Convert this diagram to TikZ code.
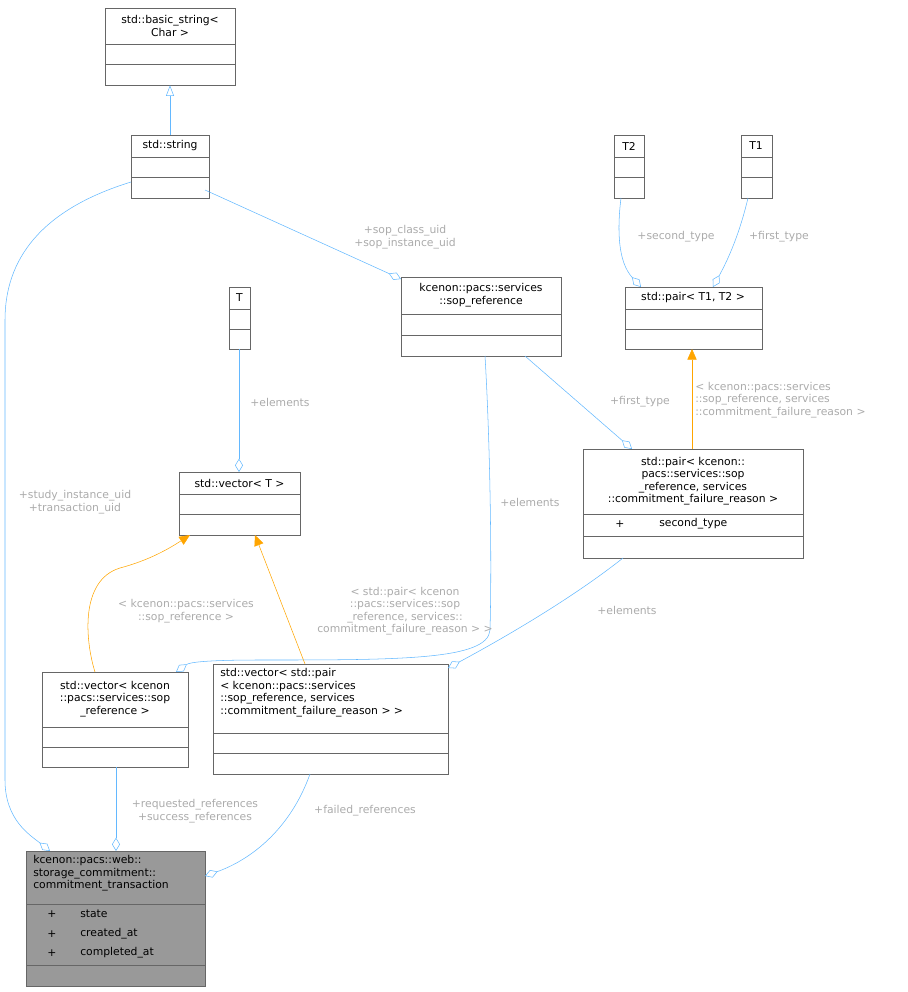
\documentclass[tikz,border=0pt]{standalone}
\usepackage{fontspec}
\setmainfont{DejaVu Sans}
\usetikzlibrary{arrows.meta,fit}
\definecolor{edgec}{HTML}{63B8FF}
\definecolor{bordc}{HTML}{666666}
\definecolor{labc}{HTML}{ABABAB}
\definecolor{tmplc}{HTML}{FFA500}
\newcommand\ubox[6]{\node[draw=bordc,fill=#6,fit={(#2,#3)(#4,#5)},inner sep=0pt] (#1) {};}
\begin{document}
\begin{tikzpicture}[x=0.75pt,y=-0.75pt,font=\fontsize{8.1}{9.4}\selectfont,
  sep/.style={bordc},
  ttl/.style={align=center,inner sep=0pt},
  lab/.style={text=labc,align=center,inner sep=0pt},
  agg/.style={edgec,-{Diamond[open,length=10pt,width=6pt]}},
  inh/.style={edgec,-{Triangle[open,length=8pt,width=6pt]}},
  tpl/.style={tmplc,-{Triangle[fill=tmplc,length=8pt,width=7pt]}}]
\useasboundingbox (0,0) rectangle (907,992);
% basic_string
\ubox{bstr}{105}{8}{235}{85}{white}
\draw[sep] (105,44)--(235,44) (105,64)--(235,64);
\node[ttl] (bstrt) at (170,26) {std::basic\_string<\\Char >};
% std::string
\ubox{str}{131}{135}{209}{198}{white}
\draw[sep] (131,157)--(209,157) (131,177)--(209,177);
\node[ttl] (strt) at (170,146) {std::string};
% T2
\ubox{tt}{614}{135}{644}{198}{white}
\draw[sep] (614,157)--(644,157) (614,177)--(644,177);
\node[ttl] (ttt) at (629,146) {T2};
% T1
\ubox{to}{741}{135}{772}{198}{white}
\draw[sep] (741,157)--(772,157) (741,177)--(772,177);
\node[ttl] (tot) at (756,146) {T1};
% pair<T1,T2>
\ubox{pair}{625}{287}{762}{349}{white}
\draw[sep] (625,309)--(762,309) (625,329)--(762,329);
\node[ttl] (pairt) at (693,298) {std::pair< T1, T2 >};
% sop_reference
\ubox{sref}{401}{277}{561}{356}{white}
\draw[sep] (401,314)--(561,314) (401,335)--(561,335);
\node[ttl] (sreft) at (481,295) {kcenon::pacs::services\\::sop\_reference};
% T
\ubox{T}{229}{287}{250}{349}{white}
\draw[sep] (229,309)--(250,309) (229,329)--(250,329);
\node[ttl] (Tt) at (239.5,298) {T};
% vector<T>
\ubox{vec}{179}{472}{300}{535}{white}
\draw[sep] (179,494)--(300,494) (179,514)--(300,514);
\node[ttl] (vect) at (239.5,483) {std::vector< T >};
% pair<kcenon>
\ubox{kp}{583}{449}{803}{558}{white}
\draw[sep] (583,514)--(803,514) (583,536)--(803,536);
\node[ttl] (kpt) at (693,481) {std::pair< kcenon::\\pacs::services::sop\\\_reference, services\\::commitment\_failure\_reason >};
\node[inner sep=0pt] (kpa1) at (620,524) {+};
\node[inner sep=0pt,anchor=west] (kpa2) at (659,524) {second\_type};
% vector<sop>
\ubox{vs}{42}{672}{188}{767}{white}
\draw[sep] (42,727)--(188,727) (42,747)--(188,747);
\node[ttl] (vst) at (115,699) {std::vector< kcenon\\::pacs::services::sop\\\_reference >};
% vector<pair>
\ubox{vp}{213}{664}{448}{774}{white}
\draw[sep] (213,733)--(448,733) (213,753)--(448,753);
\node[ttl,align=left,anchor=north west] (vpt) at (220,668) {std::vector< std::pair\\< kcenon::pacs::services\\::sop\_reference, services\\::commitment\_failure\_reason > >};
% commitment transaction
\ubox{ct}{26}{851}{205}{986}{black!40}
\draw[sep] (26,904)--(205,904) (26,965)--(205,965);
\node[ttl,align=left,anchor=north west] (ctt) at (33,855) {kcenon::pacs::web::\\storage\_commitment::\\commitment\_transaction};
\node[inner sep=0pt] (c1) at (52,914) {+};
\node[inner sep=0pt] (c2) at (52,934) {+};
\node[inner sep=0pt] (c3) at (52,953) {+};
\node[inner sep=0pt,anchor=west] (c4) at (80,914) {state};
\node[inner sep=0pt,anchor=west] (c5) at (80,934) {created\_at};
\node[inner sep=0pt,anchor=west] (c6) at (80,953) {completed\_at};
% edges
\draw[inh] (str.north) -- (bstr.south);
\draw[agg] (131,182) .. controls (40,210) and (5,260) .. (5,320) -- (5,780) .. controls (5,820) and (30,835) .. (50,851);
\node[lab] (l1) at (75,502) {+study\_instance\_uid\\+transaction\_uid};
\draw[agg] (205,190) -- (401,279);
\node[lab] (l2) at (405,237) {+sop\_class\_uid\\+sop\_instance\_uid};
\draw[agg] (621,198) .. controls (617,230) and (618,262) .. (641,287);
\node[lab] (l3) at (676,237) {+second\_type};
\draw[agg] (748,198) .. controls (738,240) and (725,265) .. (713,287);
\node[lab] (l4) at (779,237) {+first\_type};
\draw[agg] (239,349) -- (239,472);
\node[lab] (l5) at (280,402) {+elements};
\draw[agg] (525,356) -- (632,449);
\node[lab] (l6) at (640,402) {+first\_type};
\draw[tpl] (692,449) -- (692,349);
\node[lab,align=left,anchor=west] (l7) at (695,400) {< kcenon::pacs::services\\::sop\_reference, services\\::commitment\_failure\_reason >};
\draw[agg] (485,356) .. controls (490,440) and (492,560) .. (490,630) .. controls (488,660) and (400,660) .. (260,660) .. controls (210,660) and (190,662) .. (176,672);
\node[lab] (l8) at (530,502) {+elements};
\draw[agg] (623,558) .. controls (570,600) and (500,640) .. (448,668);
\node[lab] (l9) at (627,610) {+elements};
\draw[tpl] (95,672) .. controls (85,640) and (80,580) .. (120,568) .. controls (150,560) and (170,548) .. (190,535);
\node[lab] (l10) at (186,611) {< kcenon::pacs::services\\::sop\_reference >};
\draw[tpl] (305,664) -- (255,535);
\node[lab] (l11) at (405,611) {< std::pair< kcenon\\::pacs::services::sop\\\_reference, services::\\commitment\_failure\_reason > >};
\draw[agg] (116,767) -- (116,851);
\node[lab] (l12) at (195,811) {+requested\_references\\+success\_references};
\draw[agg] (310,774) .. controls (290,830) and (250,860) .. (205,876);
\node[lab] (l13) at (365,811) {+failed\_references};
\end{tikzpicture}
\end{document}
